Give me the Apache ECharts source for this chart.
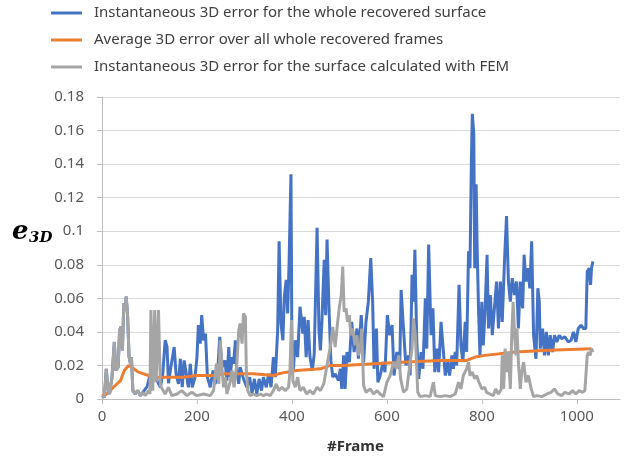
<!DOCTYPE html>
<html>
<head>
<meta charset="utf-8">
<script src="https://cdn.jsdelivr.net/npm/echarts@6/dist/echarts.min.js"></script>
<style>html,body{margin:0;padding:0;background:#fff}#c{width:640px;height:459px}</style>
</head>
<body>
<div id="c"></div>
<script>
const seriesNames = [
  'Instantaneous 3D error for the whole recovered surface',
  'Average 3D error over all whole recovered frames',
  'Instantaneous 3D error for the surface calculated with FEM'
];
const xTickLabels = [0, 200, 400, 600, 800, 1000];

const blueFrames = [0,5,9,12,16,21,26,29,34,37,40,43,46,49,51,54,57,60,62,65,70,75,81,86,
88,95,100,109,116,123,128,133,137,140,145,152,156,161,165,169,173,177,182,186,190,196,200,203,207,210,214,218,222,228,234,238,243,248,253,
259,263,267,270,274,277,281,284,288,291,298,305,311,316,321,326,331,336,340,346,351,356,361,365,370,373,377,381,384,388,391,394,398,400,403,407,412,417,423,426,430,434,438,443,447,451,453,457,460,463,468,471,474,478,482,486,491,498,
502,505,509,512,516,521,526,531,537,540,546,551,556,561,566,570,573,578,581,586,592,596,601,606,611,615,621,627,630,635,640,646,649,653,656,659,663,667,672,676,681,684,688,693,697,701,705,709,714,718,723,728,732,737,740,744,747,752,756,760,
765,768,772,775,778,780,783,785,788,790,793,796,800,803,807,811,814,818,822,827,831,835,839,843,848,852,856,860,864,869,873,877,881,886,889,893,897,901,905,909,914,918,921,923,928,932,936,940,944,949,953,958,963,968,975,982,988,993,998,1003,1009,1014,1019,1022,1026,1029,1031,1034];
const blueValues = [0.002,0.001,0.018,0.007,0.003,0.013,0.034,0.017,0.019,0.041,0.043,0.029,0.057,0.053,0.061,0.049,0.025,0.021,0.025,0.005,0.003,0.005,0.002,0.004,
0.0034,0.0074,0.013,0.017,0.011,0.007,0.015,0.035,0.031,0.0094,0.019,0.031,0.015,0.009,0.024,0.007,0.023,0.022,0.007,0.021,0.007,0.013,0.025,0.044,0.033,0.050,0.035,0.039,0.013,0.007,0.017,0.009,0.013,0.037,0.019,
0.023,0.011,0.031,0.013,0.025,0.021,0.035,0.017,0.009,0.019,0.012,0.007,0.013,0.0034,0.012,0.003,0.012,0.005,0.013,0.007,0.015,0.007,0.025,0.013,0.041,0.094,0.045,0.035,0.061,0.071,0.051,0.081,0.134,0.031,0.017,0.035,0.025,0.055,0.039,0.049,0.025,0.047,0.025,0.017,0.027,0.077,0.102,0.041,0.029,0.045,0.083,0.050,0.095,0.055,0.023,0.013,0.015,0.011,
0.018,0.006,0.026,0.006,0.028,0.022,0.046,0.028,0.042,0.024,0.050,0.022,0.046,0.058,0.084,0.058,0.018,0.042,0.010,0.014,0.022,0.016,0.050,0.038,0.044,0.014,0.028,0.018,0.065,0.042,0.020,0.026,0.014,0.074,0.058,0.089,0.034,0.012,0.028,0.018,0.060,0.030,0.092,0.038,0.054,0.016,0.030,0.016,0.046,0.032,0.014,0.022,0.014,0.026,0.018,0.028,0.020,0.068,0.032,0.022,
0.046,0.028,0.088,0.078,0.142,0.170,0.158,0.078,0.128,0.092,0.054,0.026,0.058,0.032,0.054,0.086,0.042,0.062,0.038,0.056,0.070,0.042,0.070,0.046,0.084,0.109,0.070,0.058,0.072,0.062,0.070,0.042,0.070,0.054,0.086,0.070,0.078,0.066,0.094,0.038,0.024,0.066,0.058,0.030,0.042,0.026,0.040,0.026,0.038,0.028,0.038,0.034,0.038,0.036,0.037,0.034,0.035,0.040,0.034,0.042,0.044,0.042,0.042,0.076,0.078,0.068,0.078,0.082];

const orangeFrames = [0,10,24,39,47,56,62,67,77,88,98,109,137,172,200,235,260,319,361,372,389,410,460,481,509,572,642,712,768,786,807,870,940,1031];
const orangeValues = [0.002,0.003,0.007,0.011,0.017,0.020,0.019,0.018,0.016,0.015,0.014,0.013,0.013,0.013,0.014,0.014,0.015,0.015,0.014,0.015,0.016,0.017,0.018,0.020,0.020,0.021,0.022,0.023,0.023,0.025,0.026,0.028,0.029,0.030];

const grayFrames = [0,5,9,12,16,21,26,29,34,37,40,43,46,49,51,54,57,60,62,65,70,75,81,86,91,98,101,103,107,111,114,119,123,126,133,140,147,158,168,179,189,200,214,228,235,241,246,249,253,256,260,263,269,274,278,284,288,291,295,298,302,304,307,312,319,326,333,340,347,354,361,367,372,379,386,393,396,399,402,407,412,417,424,431,438,445,453,460,467,472,477,482,486,491,496,500,504,507,510,514,517,521,524,528,533,537,540,544,547,551,556,565,572,579,586,593,600,607,614,620,625,629,635,642,649,653,656,660,665,670,681,691,698,702,712,723,733,744,751,756,761,768,772,775,780,785,789,794,800,806,810,817,824,829,835,841,843,846,849,853,856,860,863,866,869,872,874,877,881,884,888,893,898,904,909,916,926,937,946,953,960,968,975,984,991,998,1005,1012,1017,1022,1025,1028,1031,1034];
const grayValues = [0.002,0.001,0.018,0.007,0.003,0.013,0.034,0.017,0.019,0.041,0.043,0.029,0.057,0.053,0.061,0.049,0.025,0.021,0.025,0.005,0.003,0.005,0.002,0.004,0.002,0.005,0.003,0.053,0.005,0.053,0.010,0.053,0.008,0.007,0.003,0.007,0.002,0.003,0.005,0.002,0.004,0.002,0.003,0.002,0.005,0.021,0.009,0.035,0.017,0.007,0.013,0.003,0.009,0.017,0.007,0.021,0.041,0.045,0.033,0.051,0.049,0.017,0.005,0.002,0.003,0.002,0.003,0.002,0.003,0.002,0.005,0.009,0.005,0.007,0.005,0.007,0.017,0.047,0.011,0.007,0.013,0.005,0.007,0.003,0.005,0.003,0.007,0.005,0.009,0.017,0.025,0.033,0.043,0.031,0.045,0.055,0.062,0.079,0.052,0.054,0.046,0.050,0.038,0.042,0.032,0.038,0.026,0.030,0.042,0.008,0.004,0.006,0.003,0.005,0.003,0.0014,0.010,0.014,0.022,0.018,0.026,0.012,0.004,0.006,0.022,0.030,0.048,0.038,0.004,0.0014,0.002,0.0014,0.010,0.002,0.0014,0.002,0.0014,0.003,0.010,0.006,0.014,0.018,0.022,0.014,0.016,0.012,0.014,0.010,0.006,0.007,0.004,0.003,0.002,0.006,0.003,0.006,0.026,0.006,0.030,0.016,0.028,0.006,0.038,0.058,0.038,0.026,0.042,0.022,0.006,0.016,0.022,0.010,0.014,0.006,0.0014,0.002,0.0014,0.003,0.004,0.006,0.003,0.002,0.004,0.003,0.005,0.003,0.005,0.004,0.005,0.026,0.028,0.026,0.030,0.028];

function pairs(xs, ys) { return xs.map((x, i) => [x, ys[i]]); }

const chart = echarts.init(document.getElementById('c'), null, {renderer: 'canvas'});
const font = '"Noto Sans", sans-serif';
const lineSeries = (name, color, xs, ys) => ({
  name, type: 'line', data: pairs(xs, ys), showSymbol: false, symbol: 'none',
  color, lineStyle: {color, width: 3}, animation: false, z: 2
});
chart.setOption({
  animation: false,
  legend: {
    orient: 'vertical', left: 46, top: -1, itemWidth: 31, itemHeight: 3, itemGap: 9,
    icon: 'rect',
    textStyle: {fontFamily: font, fontSize: 15, color: '#404040', lineHeight: 18, padding: [0, 0, 0, 7]},
    data: seriesNames
  },
  grid: {left: 102, right: 20, top: 97, bottom: 60},
  xAxis: {
    type: 'value', min: 0, max: 1091,
    axisLine: {lineStyle: {color: '#BFBFBF', width: 1}},
    axisTick: {show: true, length: 5, lineStyle: {color: '#BFBFBF'}, customValues: xTickLabels},
    axisLabel: {customValues: xTickLabels, formatter: v => String(v), color: '#595959', fontFamily: font, fontSize: 15, margin: 10},
    splitLine: {show: false}
  },
  yAxis: {
    type: 'value', min: 0, max: 0.18, interval: 0.02,
    axisLine: {show: true, lineStyle: {color: '#BFBFBF', width: 1}},
    axisTick: {show: true, length: 5, lineStyle: {color: '#BFBFBF'}},
    axisLabel: {color: '#595959', fontFamily: font, fontSize: 15, margin: 18},
    splitLine: {lineStyle: {color: '#D9D9D9', width: 1}}
  },
  graphic: [
    {type: 'text', left: 12, top: 219, style: {text: 'e', font: 'italic bold 26px "DejaVu Serif"', fill: '#000'}},
    {type: 'text', left: 29, top: 231, style: {text: '3D', font: 'italic bold 15px "DejaVu Serif"', fill: '#000'}},
    {type: 'text', left: 327, top: 439, style: {text: '#Frame', font: 'bold 15px "Noto Sans"', fill: '#333'}}
  ],
  series: [
    lineSeries(seriesNames[0], '#4472C4', blueFrames, blueValues),
    lineSeries(seriesNames[1], '#ED7D31', orangeFrames, orangeValues),
    lineSeries(seriesNames[2], '#A5A5A5', grayFrames, grayValues)
  ]
});
</script>
</body>
</html>
